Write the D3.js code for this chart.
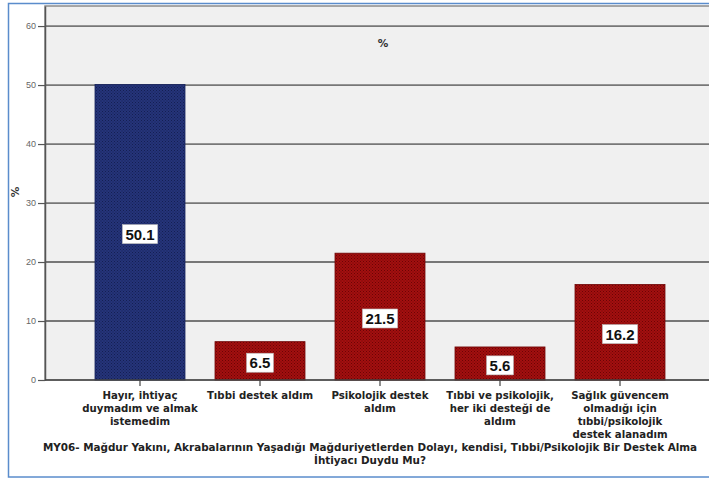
<!DOCTYPE html>
<html>
<head>
<meta charset="utf-8">
<script src="https://cdn.jsdelivr.net/npm/d3@7"></script>
<style>
  body { margin: 0; background: #fff; }
  svg { display: block; font-family: "Liberation Sans", Arial, sans-serif; }
  .lbl { font-family: "DejaVu Sans", Verdana, sans-serif; }
</style>
</head>
<body>
<svg id="drawing_region"></svg>
<script>
// chart data
const categories = [
    ["Hayır, ihtiyaç", "duymadım ve almak", "istemedim"],
    ["Tıbbi destek aldım"],
    ["Psikolojik destek", "aldım"],
    ["Tıbbi ve psikolojik,", "her iki desteği de", "aldım"],
    ["Sağlık güvencem", "olmadığı için", "tıbbi/psikolojik", "destek alanadım"]
];
const values = [50.1, 6.5, 21.5, 5.6, 16.2];
const barColors = ["navy", "red", "red", "red", "red"];
const yTicks = [0, 10, 20, 30, 40, 50, 60];
const xTitle = [
    "MY06- Mağdur Yakını, Akrabalarının Yaşadığı Mağduriyetlerden Dolayı, kendisi, Tıbbi/Psikolojik Bir Destek Alma",
    "İhtiyacı Duydu Mu?"
];

const config = {
    width: 709,
    height: 479,
    plot: {left: 45, top: 6, bottom: 380, right: 715}
};

const svg = d3.select('#drawing_region')
    .attr('width', config.width)
    .attr('height', config.height);

// dotted fill patterns
const defs = svg.append('defs');
const pats = {navy: ['#25347a', '#141f52'], red: ['#a30f0f', '#6a0404']};
Object.entries(pats).forEach(([k, c]) => {
    const p = defs.append('pattern')
        .attr('id', 'pat-' + k)
        .attr('width', 3).attr('height', 3)
        .attr('patternUnits', 'userSpaceOnUse');
    p.append('rect').attr('width', 3).attr('height', 3).attr('fill', c[0]);
    p.append('rect').attr('x', 0).attr('y', 0).attr('width', 1).attr('height', 1).attr('fill', c[1]);
    p.append('rect').attr('x', 1.5).attr('y', 1.5).attr('width', 1).attr('height', 1).attr('fill', c[1]);
});

// outer blue frame
svg.append('rect')
    .attr('x', 8.5).attr('y', 3.5)
    .attr('width', 720).attr('height', 473.5)
    .attr('fill', 'none')
    .attr('stroke', '#5a8ccc')
    .attr('stroke-width', 1.5);

const P = config.plot;

// plot background
svg.append('rect')
    .attr('x', P.left).attr('y', P.top)
    .attr('width', P.right - P.left).attr('height', P.bottom - P.top)
    .attr('fill', '#f0f0f0')
    .attr('stroke', '#8a8a8a')
    .attr('stroke-width', 1.5);

const yscale = d3.scaleLinear()
    .domain([0, 63.4])
    .range([P.bottom, P.top]);

const xscale = d3.scaleBand()
    .domain(d3.range(values.length))
    .range([80, 680])
    .paddingInner(0.25)
    .paddingOuter(0.125);

// grid lines
svg.append('g')
    .selectAll('line')
    .data(yTicks.filter(d => d > 0))
    .join('line')
    .attr('x1', P.left).attr('x2', P.right)
    .attr('y1', d => yscale(d)).attr('y2', d => yscale(d))
    .attr('stroke', '#777')
    .attr('stroke-width', 1.8);

// y axis
const yaxis = d3.axisLeft(yscale)
    .tickValues(yTicks)
    .tickSize(7)
    .tickSizeOuter(0)
    .tickPadding(2);
const yg = svg.append('g')
    .attr('transform', `translate(${P.left}, 0)`)
    .call(yaxis);
yg.select('.domain').attr('stroke', '#555').attr('stroke-width', 1.5);
yg.selectAll('.tick line').attr('stroke', '#555').attr('stroke-width', 1.2);
yg.selectAll('.tick text')
    .attr('fill', '#666')
    .style('font-size', '9px');

// bars
svg.append('g')
    .selectAll('rect')
    .data(values)
    .join('rect')
    .attr('x', (d, i) => xscale(i))
    .attr('y', d => yscale(d))
    .attr('width', xscale.bandwidth())
    .attr('height', d => yscale(0) - yscale(d))
    .attr('fill', (d, i) => `url(#pat-${barColors[i]})`)
    .attr('stroke', (d, i) => barColors[i] == 'navy' ? '#16215a' : '#6e0505')
    .attr('stroke-width', 0.8);

// x axis
const xaxis = d3.axisBottom(xscale)
    .tickSize(6)
    .tickSizeOuter(0)
    .tickFormat('');
const xg = svg.append('g')
    .attr('transform', `translate(0, ${P.bottom})`)
    .call(xaxis);
xg.select('.domain').attr('stroke', '#444').attr('stroke-width', 1.5)
    .attr('d', `M${P.left},0H${P.right}`);
xg.selectAll('.tick line').attr('stroke', '#444').attr('stroke-width', 1.2);

// category labels
const catg = svg.append('g')
    .selectAll('text')
    .data(categories)
    .join('text')
    .attr('class', 'lbl')
    .attr('text-anchor', 'middle')
    .attr('font-weight', 'bold')
    .attr('font-size', '10.2px')
    .attr('fill', '#222')
    .attr('transform', (d, i) => `translate(${xscale(i) + xscale.bandwidth() / 2}, 399)`);
catg.selectAll('tspan')
    .data(d => d)
    .join('tspan')
    .attr('x', 0)
    .attr('dy', (d, i) => i == 0 ? 0 : 13)
    .text(d => d);

// value labels
const lab = svg.append('g')
    .selectAll('g')
    .data(values)
    .join('g')
    .attr('transform', (d, i) => `translate(${xscale(i) + xscale.bandwidth() / 2}, ${(yscale(d) + yscale(0)) / 2 + 2})`);
lab.append('text')
    .attr('text-anchor', 'middle')
    .attr('dy', '0.36em')
    .attr('font-weight', 'bold')
    .attr('font-size', '15px')
    .attr('fill', '#111')
    .text(d => d.toFixed(1));
lab.each(function() {
    const g = d3.select(this);
    const bb = g.select('text').node().getBBox();
    g.insert('rect', 'text')
        .attr('x', bb.x - 3).attr('y', bb.y - 1)
        .attr('width', bb.width + 6).attr('height', bb.height + 2)
        .attr('fill', '#fff')
        .attr('stroke', '#bbb')
        .attr('stroke-width', 0.6);
});

// chart title
svg.append('text')
    .attr('class', 'lbl')
    .attr('x', 383).attr('y', 47)
    .attr('text-anchor', 'middle')
    .attr('font-weight', 'bold')
    .attr('font-size', '10.5px')
    .attr('fill', '#333')
    .text('%');

// y label
svg.append('text')
    .attr('class', 'lbl')
    .attr('transform', 'translate(19, 192) rotate(-90)')
    .attr('text-anchor', 'middle')
    .attr('font-weight', 'bold')
    .attr('font-size', '10.5px')
    .attr('fill', '#333')
    .text('%');

// x title
svg.append('g')
    .selectAll('text')
    .data(xTitle)
    .join('text')
    .attr('class', 'lbl')
    .attr('x', 370)
    .attr('y', (d, i) => 451 + i * 13)
    .attr('text-anchor', 'middle')
    .attr('font-weight', 'bold')
    .attr('font-size', '10.4px')
    .attr('fill', '#222')
    .text(d => d);
</script>
</body>
</html>
